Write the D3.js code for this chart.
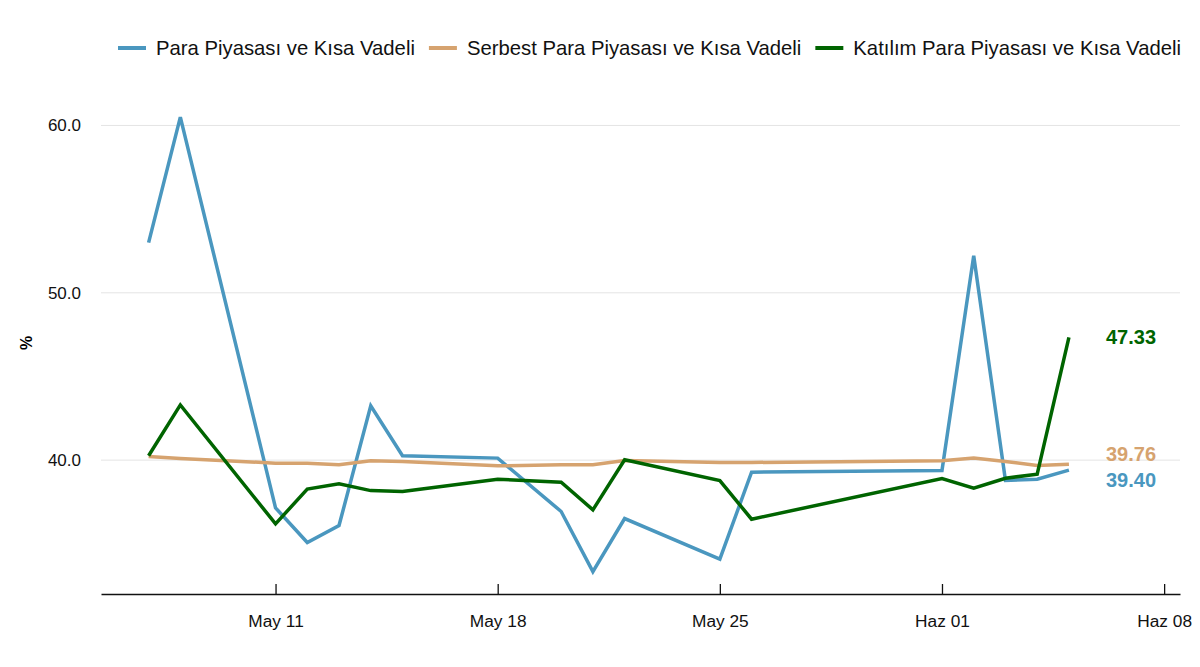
<!DOCTYPE html>
<html>
<head>
<meta charset="utf-8">
<script src="https://cdn.jsdelivr.net/npm/d3@7"></script>
<style>
  body { margin: 0; background: #fff; }
  text { font-family: "Liberation Sans", Arial, sans-serif; }
</style>
</head>
<body>
<div id="viz"></div>
<script>
// dates of the observations (2020)
const dates = ["2020-05-07","2020-05-08","2020-05-11","2020-05-12","2020-05-13","2020-05-14","2020-05-15",
  "2020-05-18","2020-05-20","2020-05-21","2020-05-22","2020-05-25","2020-05-26",
  "2020-06-01","2020-06-02","2020-06-03","2020-06-04","2020-06-05"];

// series values, in %
const paraValues = [53.0, 60.5, 37.15, 35.08, 36.09, 43.25, 40.26,
  40.12, 36.93, 33.34, 36.51, 34.08, 39.28,
  39.38, 52.21, 38.78, 38.86, 39.40];
const serbestValues = [40.22, 40.10, 39.82, 39.82, 39.72, 39.96, 39.92,
  39.66, 39.72, 39.72, 39.98, 39.86, 39.86,
  39.96, 40.12, 39.92, 39.68, 39.76];
const katilimValues = [40.26, 43.30, 36.19, 38.27, 38.58, 38.18, 38.12,
  38.86, 38.68, 37.03, 40.02, 38.78, 36.47,
  38.90, 38.33, 38.92, 39.16, 47.33];

const seriesNames = ["Para Piyasası ve Kısa Vadeli", "Serbest Para Piyasası ve Kısa Vadeli", "Katılım Para Piyasası ve Kısa Vadeli"];
const seriesColors = ["#4a97bf", "#d6a36f", "#006400"];

const yTicks = [40, 50, 60];
const xTicks = ["2020-05-11","2020-05-18","2020-05-25","2020-06-01","2020-06-08"];

const parseDate = d3.timeParse("%Y-%m-%d");
const tr = d3.timeFormatLocale({
  dateTime: "%a %e %b %X %Y", date: "%d.%m.%Y", time: "%H:%M:%S",
  periods: ["AM", "PM"],
  days: ["Pazar","Pazartesi","Salı","Çarşamba","Perşembe","Cuma","Cumartesi"],
  shortDays: ["Paz","Pzt","Sal","Çar","Per","Cum","Cmt"],
  months: ["Ocak","Şubat","Mart","Nisan","Mayıs","Haziran","Temmuz","Ağustos","Eylül","Ekim","Kasım","Aralık"],
  shortMonths: ["Oca","Şub","Mar","Nis","May","Haz","Tem","Ağu","Eyl","Eki","Kas","Ara"]
});
const fmt = tr.format("%b %d");

const width = 1200, height = 667;
const margin = { top: 92, right: 20, bottom: 73, left: 101 };

const svg = d3.select("#viz").append("svg")
  .attr("width", width)
  .attr("height", height);

const x = d3.scaleTime()
  .domain([new Date(2020, 4, 5, 12), new Date(2020, 5, 8, 12)])
  .range([margin.left, width - margin.right]);

const y = d3.scaleLinear()
  .domain([32, 62])
  .range([height - margin.bottom, margin.top]);

const xs = dates.map(parseDate);
const allSeries = [paraValues, serbestValues, katilimValues];

// gridlines
svg.append("g")
  .selectAll("line")
  .data(yTicks)
  .join("line")
    .attr("x1", margin.left)
    .attr("x2", width - margin.right)
    .attr("y1", d => y(d))
    .attr("y2", d => y(d))
    .attr("stroke", "#e4e4e4")
    .attr("stroke-width", 1);

// y labels
svg.append("g")
  .selectAll("text")
  .data(yTicks)
  .join("text")
    .attr("x", 81)
    .attr("y", d => y(d))
    .attr("dy", "0.35em")
    .attr("text-anchor", "end")
    .attr("font-size", 17)
    .attr("fill", "#111")
    .text(d => d.toFixed(1));

svg.append("text")
  .attr("transform", `translate(32,${343}) rotate(-90)`)
  .attr("text-anchor", "middle")
  .attr("font-size", 16)
  .attr("font-weight", "bold")
  .text("%");

// x axis
const xAxis = d3.axisBottom(x)
  .tickValues(xTicks.map(parseDate))
  .tickFormat(fmt)
  .tickSize(-10)
  .tickPadding(21)
  .tickSizeOuter(0);

const gx = svg.append("g")
  .attr("transform", `translate(0,${height - margin.bottom})`)
  .call(xAxis);
gx.select(".domain").attr("stroke", "#111").attr("stroke-width", 1.5);
gx.selectAll(".tick line").attr("stroke", "#111").attr("stroke-width", 1.3);
gx.selectAll(".tick text")
  .attr("font-size", 17.3)
  .attr("font-family", "Liberation Sans, Arial, sans-serif")
  .attr("fill", "#111");

// lines
const line = d3.line()
  .x((d, i) => x(xs[i]))
  .y(d => y(d));

svg.append("g")
  .selectAll("path")
  .data(allSeries)
  .join("path")
    .attr("d", line)
    .attr("fill", "none")
    .attr("stroke", (d, i) => seriesColors[i])
    .attr("stroke-width", 3.5)
    .attr("stroke-linejoin", "miter");

// end labels, nudged apart so they don't overlap
let ends = allSeries.map((s, i) => ({ v: s[s.length - 1], i: i, pos: y(s[s.length - 1]) }));
ends.sort((a, b) => a.pos - b.pos);
const gap = 26;
for (let k = 1; k < ends.length; k++) {
  if (ends[k].pos - ends[k - 1].pos < gap) {
    const mid = (ends[k].pos + ends[k - 1].pos) / 2;
    ends[k - 1].pos = mid - gap / 2;
    ends[k].pos = mid + gap / 2;
  }
}
svg.append("g")
  .selectAll("text")
  .data(ends)
  .join("text")
    .attr("x", 1106)
    .attr("y", d => d.pos)
    .attr("dy", "0.35em")
    .attr("font-size", 20)
    .attr("font-weight", "bold")
    .attr("fill", d => seriesColors[d.i])
    .text(d => d.v.toFixed(2));

// legend, right aligned
const legend = svg.append("g");
let items = legend.selectAll("g")
  .data(seriesNames)
  .join("g");
items.append("line")
  .attr("x1", 0).attr("x2", 28)
  .attr("y1", 0).attr("y2", 0)
  .attr("stroke", (d, i) => seriesColors[i])
  .attr("stroke-width", 4);
items.append("text")
  .attr("x", 38)
  .attr("dy", "0.35em")
  .attr("font-size", 20.3)
  .attr("fill", "#111")
  .text(d => d);

let offset = 0;
items.each(function() {
  const w = d3.select(this).select("text").node().getComputedTextLength();
  d3.select(this).attr("transform", `translate(${offset},48)`);
  offset += 38 + w + 14;
});
const totalW = offset - 14;
legend.attr("transform", `translate(${1181 - totalW},0)`);
</script>
</body>
</html>
